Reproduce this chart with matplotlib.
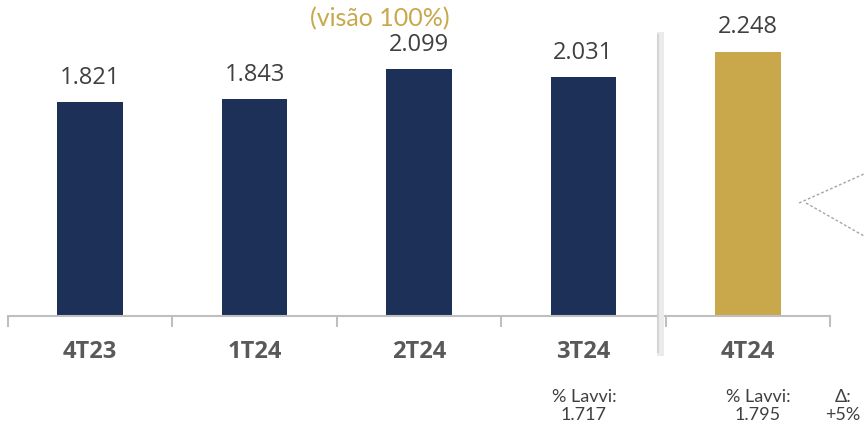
import matplotlib.pyplot as plt
from matplotlib.lines import Line2D

quarters = ["4T23", "1T24", "2T24", "3T24", "4T24"]
values = [1.821, 1.843, 2.099, 2.031, 2.248]
labels = ["1.821", "1.843", "2.099", "2.031", "2.248"]
lavvi_notes = {3: "% Lavvi:\n1.717", 4: "% Lavvi:\n1.795"}
delta_note = "Δ:\n+5%"

navy = "#1D3057"
gold = "#C8A84B"
colors = [navy, navy, navy, navy, gold]

W, H = 864, 425
fig = plt.figure(figsize=(8.64, 4.25), dpi=100)


def fx(px):
    return px / W


def fy(py):
    return 1 - py / H


ax = fig.add_axes([fx(8), fy(316), fx(830) - fx(8), fy(0) - fy(316)])
x = range(len(quarters))
ax.bar(x, values, width=0.4, color=colors, zorder=2)
ax.set_xlim(-0.5, 4.5)
ax.set_ylim(0, 2.69)

for i, (v, s) in enumerate(zip(values, labels)):
    ax.annotate(s, (i, v), xytext=(0, 9), textcoords="offset points",
                ha="center", va="bottom", fontsize=17, color="#404040",
                family="Open Sans")

for s in ["top", "right", "left"]:
    ax.spines[s].set_visible(False)
ax.spines["bottom"].set_color("#BFBFBF")
ax.spines["bottom"].set_linewidth(1.5)
ax.set_yticks([])
ax.set_xticks(list(x))
ax.set_xticklabels(quarters, fontsize=17, fontweight="bold", color="#595959",
                   family="Open Sans")
ax.tick_params(axis="x", which="major", length=0, pad=17)
ax.set_xticks([i - 0.5 for i in range(len(quarters) + 1)], minor=True)
ax.tick_params(axis="x", which="minor", length=8, width=1.5, color="#BFBFBF")

# separator line before the latest quarter
fig.add_artist(Line2D([fx(660), fx(660)], [fy(35), fy(352)], color="#EBEBEB", lw=5))
fig.add_artist(Line2D([fx(658), fx(658)], [fy(35), fy(352)], color="#D4D4D4", lw=1.5))

# dotted callout lines
fig.add_artist(Line2D([fx(799), fx(864)], [fy(203), fy(174)], color="#A6A6A6",
                      lw=1, ls=(0, (2, 1.5))))
fig.add_artist(Line2D([fx(806), fx(864)], [fy(203), fy(236)], color="#A6A6A6",
                      lw=1, ls=(0, (2, 1.5))))

fig.text(fx(380), fy(19), "(visão 100%)", ha="center", va="center",
         fontsize=18, color=gold, family="Lato")

for i, note in lavvi_notes.items():
    cx = 584 if i == 3 else 758
    fig.text(fx(cx), fy(406), note, ha="center", va="center", fontsize=13,
             color="#404040", family="Lato", linespacing=1.15)
fig.text(fx(843), fy(406), delta_note, ha="center", va="center", fontsize=13,
         color="#404040", family="Lato", linespacing=1.15)

fig.savefig("out.png", dpi=100)
